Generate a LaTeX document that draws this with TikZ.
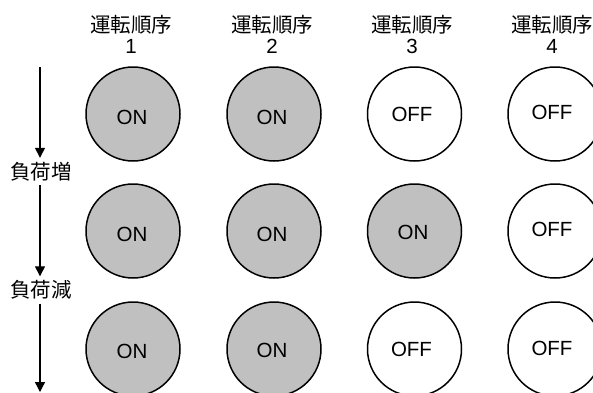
\documentclass[tikz,border=0pt]{standalone}
\usepackage{fontspec}
\setmainfont{Liberation Sans}
\newfontfamily\jpfont{Noto Sans CJK JP}
\usetikzlibrary{arrows.meta}
\definecolor{ongray}{HTML}{C0C0C0}
\tikzset{
  lamp/.style={circle, draw=black, line width=1.5pt, minimum size=94pt, inner sep=0pt},
  onlamp/.style={lamp, fill=ongray},
  offlamp/.style={lamp, fill=white},
  lamptext/.style={inner sep=0pt, font=\fontsize{20.5}{24}\selectfont},
  head/.style={align=center, inner sep=0pt, font=\fontsize{20.5}{21}\selectfont},
  loadlbl/.style={inner sep=0pt, minimum height=27pt, font=\jpfont\fontsize{20.5}{24}\selectfont},
  flow/.style={line width=1.3pt, -{Triangle[width=10pt,length=10pt]}}
}
\begin{document}
\begin{tikzpicture}[x=1pt,y=-1pt]
\useasboundingbox (0,0) rectangle (593,392);
\clip (0,0) rectangle (593,392);
% headers
\foreach \i/\x in {1/131,2/272,3/412,4/552}{
  \node[head] (h\i) at (\x,34) {{\jpfont 運転順序}\\\i};
}
% row 1
\node[onlamp]  (r1c1) at (133,114) {};
\node[onlamp]  (r1c2) at (274,114) {};
\node[offlamp] (r1c3) at (414.5,114) {};
\node[offlamp] (r1c4) at (555,114) {};
\node[lamptext] (t1c1) at ([shift={(-1,3.5)}]r1c1.center) {ON};
\node[lamptext] (t1c2) at ([shift={(-2,3)}]r1c2.center) {ON};
\node[lamptext] (t1c3) at ([shift={(-2.5,0.7)}]r1c3.center) {OFF};
\node[lamptext] (t1c4) at ([shift={(-3,-1.5)}]r1c4.center) {OFF};
% row 2
\node[onlamp]  (r2c1) at (133,231) {};
\node[onlamp]  (r2c2) at (274,231) {};
\node[onlamp]  (r2c3) at (414.5,231) {};
\node[offlamp] (r2c4) at (555,231) {};
\node[lamptext] (t2c1) at ([shift={(-1,3.5)}]r2c1.center) {ON};
\node[lamptext] (t2c2) at ([shift={(-2,3)}]r2c2.center) {ON};
\node[lamptext] (t2c3) at ([shift={(-1.5,1)}]r2c3.center) {ON};
\node[lamptext] (t2c4) at ([shift={(-3,-1.5)}]r2c4.center) {OFF};
% row 3
\node[onlamp]  (r3c1) at (133,349) {};
\node[onlamp]  (r3c2) at (274,349) {};
\node[offlamp] (r3c3) at (414.5,349) {};
\node[offlamp] (r3c4) at (555,349) {};
\node[lamptext] (t3c1) at ([shift={(-1,2)}]r3c1.center) {ON};
\node[lamptext] (t3c2) at ([shift={(-2,1.5)}]r3c2.center) {ON};
\node[lamptext] (t3c3) at ([shift={(-3,0.5)}]r3c3.center) {OFF};
\node[lamptext] (t3c4) at ([shift={(-3,-1)}]r3c4.center) {OFF};
% load labels and arrows
\coordinate (top) at (40,67);
\coordinate (bot) at (40,392);
\node[loadlbl] (inc) at (41,171.5) {負荷増};
\node[loadlbl] (dec) at (41,290) {負荷減};
\draw[flow] (top) -- (inc.north -| top);
\draw[flow] (inc.south -| top) -- (dec.north -| top);
\draw[flow] (dec.south -| top) -- (bot);
\end{tikzpicture}
\end{document}
